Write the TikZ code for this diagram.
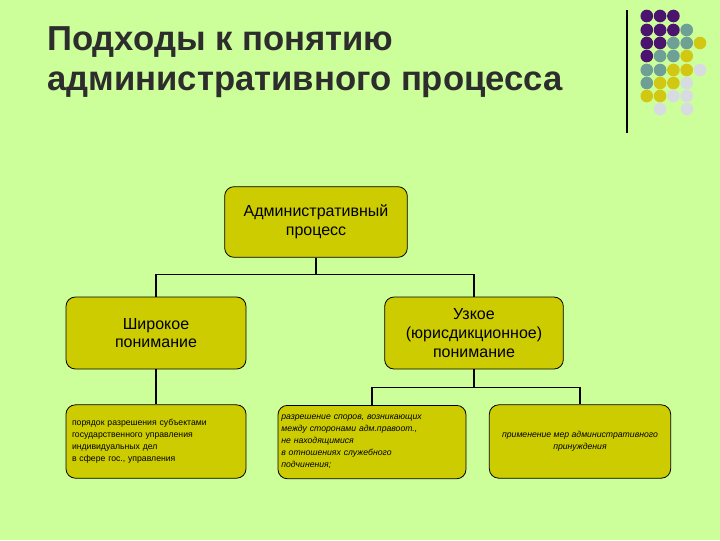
\documentclass[tikz,border=0pt]{standalone}
\usepackage{fontspec}
\setmainfont{Liberation Sans}
\begin{document}
\begin{tikzpicture}[x=0.75pt,y=-0.75pt,
  box/.style={draw=black,fill=boxc,rounded corners=7pt,line width=0.6pt,align=center,inner sep=2pt},
  ln/.style={line width=0.8pt},
  dot/.style={circle,fill,inner sep=0pt,minimum size=9.5pt}]
\definecolor{bg}{RGB}{204,255,153}
\definecolor{boxc}{RGB}{204,204,0}
\definecolor{dp}{RGB}{75,20,110}
\definecolor{dt}{RGB}{110,160,150}
\definecolor{dy}{RGB}{210,200,20}
\definecolor{dl}{RGB}{215,220,225}
\definecolor{tt}{RGB}{45,45,45}
\fill[bg] (0,0) rectangle (720,540);
\useasboundingbox (0,0) rectangle (720,540);
\node[anchor=north west,align=left,text=tt,font=\bfseries\fontsize{26}{30}\selectfont,inner sep=0pt] (title) at (47,26) {Подходы к понятию\\административного процесса};
\draw[line width=0.8pt] (627,10) -- (627,133);
\foreach \r/\lst in {16/{dp,dp,dp},30/{dp,dp,dp,dt},43/{dp,dp,dt,dt,dy},56/{dp,dt,dt,dy},70/{dt,dt,dy,dy,dl},83/{dt,dy,dy,dl},96/{dy,dy,dl,dl}}{
  \foreach \c [count=\i] in \lst { \node[dot,fill=\c] at ({13.3*\i+633.5},\r) {}; }
}
\node[dot,fill=dl] at (660,109) {};
\node[dot,fill=dl] at (687,109) {};
\node[box,minimum width=137pt,minimum height=53pt,font=\fontsize{12}{14}\selectfont] (top) at (316,222) {Административный\\процесс};
\node[box,minimum width=135pt,minimum height=54pt,font=\fontsize{12}{14}\selectfont] (wide) at (156,333) {Широкое\\понимание};
\node[box,minimum width=134pt,minimum height=54pt,font=\fontsize{12}{14}\selectfont] (nar) at (474,333) {Узкое\\(юрисдикционное)\\понимание};
\node[box,minimum width=135pt,minimum height=55pt,font=\fontsize{6.5}{9}\selectfont,align=left,text width=126pt] (b1) at (156,441.5) {порядок разрешения субъектами\\государственного управления\\индивидуальных дел\\в сфере гос., управления\\[6pt]};
\node[box,minimum width=141pt,minimum height=55pt,font=\itshape\fontsize{6.5}{9}\selectfont,align=left,text width=136pt,anchor=north] (b2) at (372,405) {разрешение споров, возникающих\\между сторонами адм.правоот.,\\не находящимися\\в отношениях служебного\\подчинения;};
\node[box,minimum width=136pt,minimum height=55pt,font=\itshape\fontsize{6.5}{9}\selectfont] (b3) at (580,441.5) {применение мер административного\\принуждения};
\draw[ln] (top.south) -- ++(0,17) coordinate (j1);
\draw[ln] (wide.north) -- (wide.north |- j1) -- (nar.north |- j1) -- (nar.north);
\draw[ln] (wide.south) -- (b1.north);
\draw[ln] (nar.south) -- ++(0,18) coordinate (j2);
\draw[ln] (b2.north) -- (b2.north |- j2) -- (b3.north |- j2) -- (b3.north);
\end{tikzpicture}
\end{document}
